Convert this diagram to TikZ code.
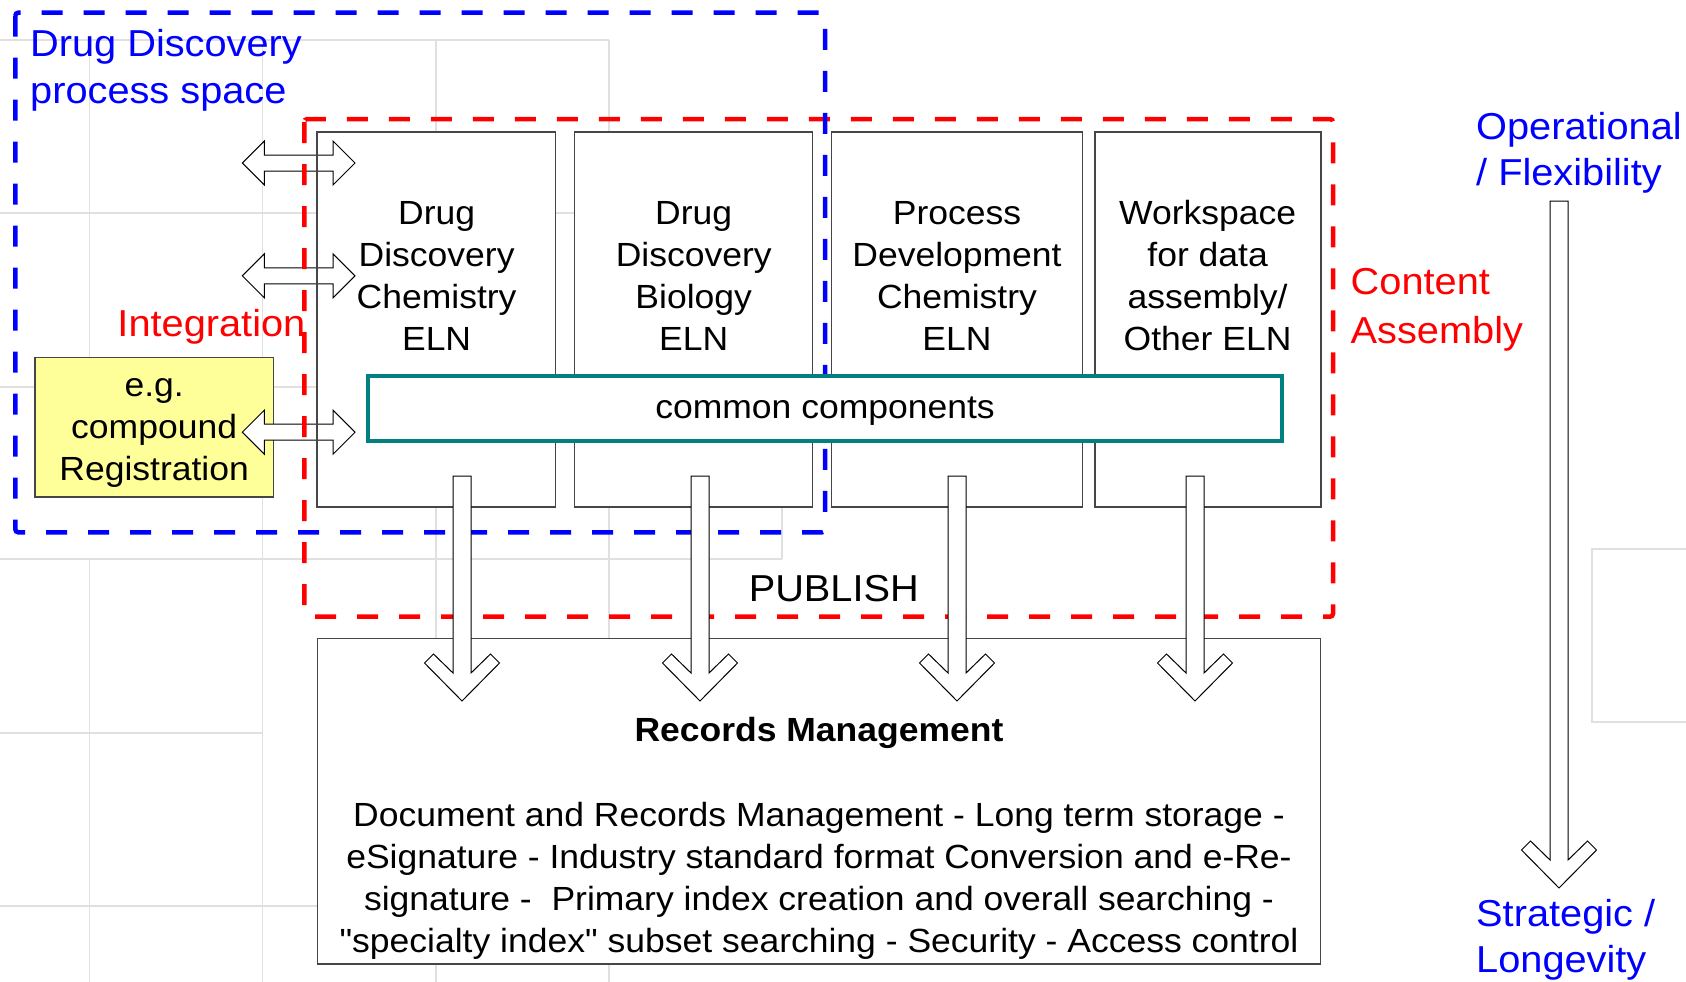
\documentclass[tikz,border=0pt]{standalone}
\usepackage{fontspec}
\setmainfont[FakeStretch=1.06]{Liberation Sans}
% same face without the TeX input mapping, for straight double quotes
\newfontfamily\plainface[FakeStretch=1.06]{Liberation Sans}
\definecolor{gridgray}{RGB}{224,224,224}
\definecolor{boxgray}{RGB}{70,70,70}
\definecolor{regyellow}{RGB}{255,255,153}
\definecolor{compteal}{RGB}{0,128,128}
\definecolor{zoneblue}{RGB}{0,0,255}
\definecolor{zonered}{RGB}{255,0,0}
\newcommand\elnsize{\fontsize{33.5}{42}\selectfont}
\newcommand\straightquote{{\plainface"}}
\tikzset{
  gridline/.style={draw=gridgray, line width=1.5pt},
  boxstyle/.style={draw=boxgray, fill=white, line width=1.5pt, inner sep=0pt},
  zone/.style={line width=4.5pt, dash pattern=on 21pt off 21pt, rounded corners=3pt},
  blockline/.style={draw=black, fill=white, line width=1pt, line join=miter},
  elntext/.style={inner sep=0pt, align=center, anchor=north, font=\elnsize},
  sidelabel/.style={inner sep=0pt, align=left, anchor=north west},
  % horizontal two-headed block arrow, centred on its position
  pics/dblblock/.style={code={
    \draw[blockline] (-56.35,0) -- (-34.35,-22) -- (-34.35,-8) -- (34.35,-8)
      -- (34.35,-22) -- (56.35,0) -- (34.35,22) -- (34.35,8) -- (-34.35,8)
      -- (-34.35,22) -- cycle;}},
  % downward block arrow with a chevron head; #1 = shaft length
  pics/downblock/.style={code={
    \draw[blockline] (-9,0) -- (-9,{#1}) -- (-28.5,{#1-19}) -- (-37.5,{#1-10})
      -- (0,{#1+28}) -- (37.5,{#1-10}) -- (28.5,{#1-19}) -- (9,{#1}) -- (9,0) -- cycle;}}
}
\begin{document}
\begin{tikzpicture}[x=1pt,y=-1pt]
\useasboundingbox[fill=white] (0,0) rectangle (1686,982);

% faint background grid
\draw[gridline] (0,40) -- (609,40) (0,213) -- (609,213) (0,387) -- (609,387)
  (0,559) -- (782,559) (0,733) -- (262.6,733) (0,906) -- (318,906)
  (89.5,40) -- (89.5,357) (89.5,559) -- (89.5,982)
  (262.6,40) -- (262.6,982) (435.8,40) -- (435.8,982) (609,40) -- (609,982)
  (782,480) -- (782,559);
\draw[gridline] (1686,549) -- (1592,549) -- (1592,722) -- (1686,722);

% ELN columns
\node[boxstyle, minimum width=237.8pt, minimum height=375.2pt] (eln1) at (436.4,319.4) {};
\node[boxstyle, minimum width=238pt, minimum height=375.2pt] (eln2) at (693.7,319.4) {};
\node[boxstyle, minimum width=251pt, minimum height=375.2pt] (eln3) at (957.2,319.4) {};
\node[boxstyle, minimum width=226pt, minimum height=375.2pt] (eln4) at (1208,319.4) {};

% registration box
\node[boxstyle, fill=regyellow, minimum width=238.3pt, minimum height=139.7pt] (reg) at (154.15,427.15) {};

% integration arrows
\coordinate (link1) at (298.65,163);
\coordinate (link2) at (298.65,275.8);
\coordinate (link3) at (298.65,432.2);
\pic at (link1) {dblblock};
\pic at (link2) {dblblock};
\pic at (link3) {dblblock};
\draw[boxgray, line width=1.5pt] (eln1.north west) -- (eln1.south west);

% process spaces
\draw[zone, zonered] (304.3,119) rectangle (1333,616.7);
\draw[zone, zoneblue] (15.3,12.7) rectangle (825,532.3);

% shared layer
\node[draw=compteal, fill=white, line width=4.5pt, inner sep=0pt,
  minimum width=914pt, minimum height=65pt] (common) at (825,408.3) {};

% records management
\node[boxstyle, minimum width=1003pt, minimum height=325.3pt] (records) at (819,801.35) {};

% publishing arrows
\coordinate (pub1) at (462,476);
\coordinate (pub2) at (700,476);
\coordinate (pub3) at (957,476);
\coordinate (pub4) at (1195,476);
\pic at (pub1) {downblock=197};
\pic at (pub2) {downblock=197};
\pic at (pub3) {downblock=197};
\pic at (pub4) {downblock=197};

% time axis
\coordinate (axistop) at (1559,201);
\pic at (axistop) {downblock=659};

% texts
\node[elntext] (t1) at (436.6,194.6) {\strut Drug\\Discovery\\Chemistry\\ELN};
\node[elntext] (t2) at (693.7,194.6) {\strut Drug\\Discovery\\Biology\\ELN};
\node[elntext] (t3) at (957,194.6) {\strut Process\\Development\\Chemistry\\ELN};
\node[elntext] (t4) at (1207.6,194.6) {\strut Workspace\\for data\\assembly/\\Other ELN};
\node[elntext] (treg) at (154.15,366.6) {\strut e.g.\\compound\\Registration};
\node[inner sep=0pt, anchor=base, font=\elnsize] (tcommon) at (825,418.4) {common components};
\node[inner sep=0pt, anchor=base, font=\elnsize\bfseries] (trecords) at (819,741.7) {Records Management};
\node[elntext] (tbody) at (819,797.3) {\strut Document and Records Management - Long term storage -\\
  eSignature - Industry standard format Conversion and e-Re-\\
  signature -~ Primary index creation and overall searching -\\
  \straightquote specialty index\straightquote{} subset searching - Security - Access control};
\node[inner sep=0pt, anchor=base, font=\fontsize{37.5}{45}\selectfont] (tpublish) at (833.8,601.7) {PUBLISH};

\node[sidelabel, text=zoneblue, font=\fontsize{37.5}{47.1}\selectfont] (tdds) at (30,23.43) {\strut Drug Discovery\\process space};
\node[inner sep=0pt, anchor=base east, text=zonered, font=\fontsize{37.5}{45}\selectfont] (tinteg) at (305.5,336.3) {Integration};
\node[sidelabel, text=zonered, font=\fontsize{37.5}{48.2}\selectfont] (tcontent) at (1350.5,260.86) {\strut Content\\Assembly};
\node[sidelabel, text=zoneblue, font=\fontsize{37.5}{45.7}\selectfont] (toper) at (1476,107.31) {\strut Operational\\/ Flexibility};
\node[sidelabel, text=zoneblue, font=\fontsize{37.5}{46.7}\selectfont] (tstrat) at (1476,893.31) {\strut Strategic /\\Longevity};
\end{tikzpicture}
\end{document}
